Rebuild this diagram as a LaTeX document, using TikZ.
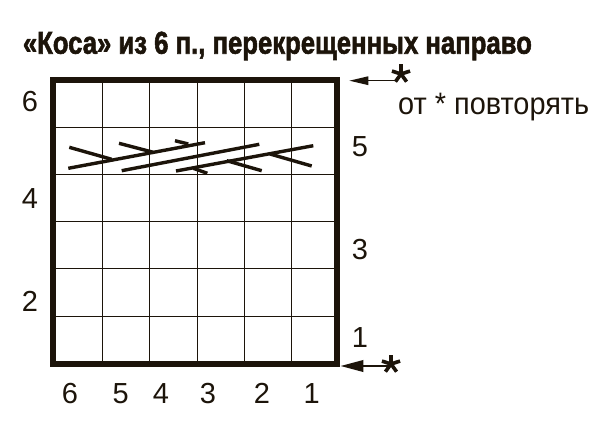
\documentclass[tikz,border=0pt]{standalone}
\usepackage{graphicx}
\usepackage{fontspec}
\setmainfont{Liberation Sans}
\newfontfamily\titlefont[FakeBold=2]{Liberation Sans Bold}
\usetikzlibrary{arrows.meta}
\definecolor{ink}{RGB}{28,20,10}
\begin{document}
\begin{tikzpicture}[x=1pt,y=-1pt,
  gridline/.style={draw=ink, line width=0.9pt},
  frame/.style={draw=ink, line width=6pt, line join=miter},
  strand/.style={draw=ink, line width=3.4pt},
  num/.style={font=\fontsize{29}{29}\selectfont, text=ink, inner sep=0pt},
  shaft/.style={draw=ink, line width=1.3pt},
  aster/.pic={\foreach \a in {-90,-18,-162,54,126} \draw[ink, line width=3.6pt] (0,0) -- (\a:9.5);}
]
\useasboundingbox (0,0) rectangle (601,441);
\fill[white] (0,0) rectangle (601,441);

% title
\node[anchor=base west, inner sep=0pt, text=ink] (title) at (22.7,53.7)
  {\resizebox{509pt}{22pt}{\fontsize{30}{30}\titlefont «Коса» из 6 п., перекрещенных направо}};

% grid
\foreach \x in {102.3,149.5,197,244.5,291.7} \draw[gridline] (\x,80) -- (\x,364);
\foreach \y in {127.3,174.5,221.7,268.9,316} \draw[gridline] (53,\y) -- (337,\y);
\draw[frame] (53.3,80) rectangle (337.2,363.8);

% cable strands
\draw[strand] (68.3,168.3) -- (205,142.7);
\draw[strand] (121.7,170.7) -- (259.3,144.3);
\draw[strand] (176,171) -- (313.3,145.7);
\draw[strand] (69.3,147.3) -- (111.7,159.3);
\draw[strand] (119,143.3) -- (153.3,152.3);
\draw[strand] (175,140.7) -- (188.3,144);
\draw[strand] (193.3,168.3) -- (207.3,173.3);
\draw[strand] (226.7,160.7) -- (261.7,170.7);
\draw[strand] (270,154) -- (311.7,166);

% row numbers
\node[num] (l6) at (30,101.7) {6};
\node[num] (l4) at (30,199) {4};
\node[num] (l2) at (30,301) {2};
\node[num] (r5) at (360,146.7) {5};
\node[num] (r3) at (360,250) {3};
\node[num] (r1) at (360,338) {1};

% column numbers
\node[num] (c6) at (70,393.3) {6};
\node[num] (c5) at (120.7,393.3) {5};
\node[num] (c4) at (161,393.3) {4};
\node[num] (c3) at (208,393.3) {3};
\node[num] (c2) at (262,393.3) {2};
\node[num] (c1) at (311.7,393.3) {1};

% repeat markers
\coordinate (tip1) at (349.3,80.7);
\coordinate (end1) at (397,80.7);
\pic at (401,74) {aster};
\draw[shaft, -{Triangle[length=19pt,width=8.5pt]}] (end1) -- (tip1);

\coordinate (tip2) at (340.7,366);
\coordinate (end2) at (388,366);
\pic at (391,364) {aster};
\draw[shaft, -{Triangle[length=22.6pt,width=11.7pt]}] (end2) -- (tip2);

\node[anchor=base west, inner sep=0pt, text=ink] (rep) at (398,114.3)
  {\resizebox{191pt}{\height}{\fontsize{31}{31}\selectfont от * повторять}};
\end{tikzpicture}
\end{document}
